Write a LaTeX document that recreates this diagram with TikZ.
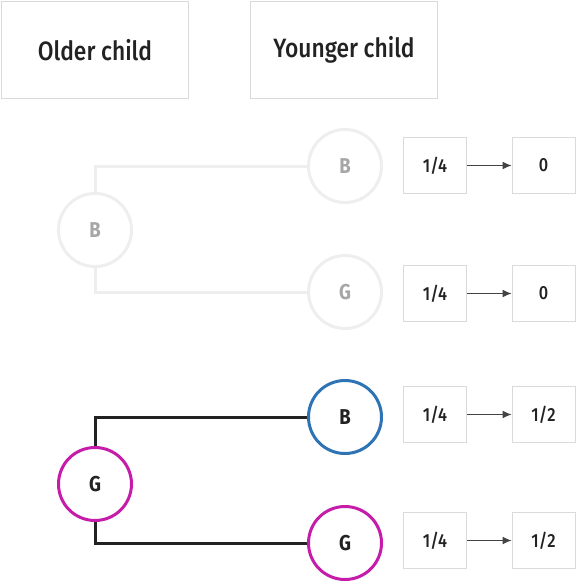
\documentclass[tikz,border=0pt]{standalone}
\usepackage{fontspec}
\setmainfont{Fira Sans}[UprightFont=* Medium, BoldFont=* Bold, FakeStretch=0.86]
\usetikzlibrary{arrows.meta}

\definecolor{boxline}{HTML}{DADADA}
\definecolor{faded}{HTML}{EEEEEE}
\definecolor{fadedtext}{HTML}{A6A6A6}
\definecolor{ink}{HTML}{222222}
\definecolor{boy}{HTML}{2E74B5}
\definecolor{girl}{HTML}{C51DAA}

\begin{document}
\begin{tikzpicture}[x=1pt,y=-1pt,text=ink]
  \tikzstyle{header}=[draw=boxline, line width=1pt, minimum width=187pt, minimum height=97pt, font=\fontsize{26.5}{30}\selectfont]
  \tikzstyle{kid}=[circle, line width=3pt, minimum size=73pt, inner sep=0pt, font=\bfseries\fontsize{21.5}{25}\selectfont]
  \tikzstyle{prob}=[draw=boxline, line width=1pt, minimum width=63pt, minimum height=56pt, font=\fontsize{19}{22}\selectfont]
  \tikzstyle{branch}=[line width=3pt]
  \useasboundingbox (0,0) rectangle (576,584);

  % column headers
  \node[header] (older) at (95,50) {Older child};
  \node[header] (younger) at (344,50) {Younger child};

  % older child is a boy
  \node[kid, draw=faded, text=fadedtext] (b) at (95,230) {B};
  \node[kid, draw=faded, text=fadedtext] (bb) at (345,166) {B};
  \node[kid, draw=faded, text=fadedtext] (bg) at (345,292) {G};
  \draw[branch, faded] (b.north) |- (bb.west);
  \draw[branch, faded] (b.south) |- (bg.west);

  % older child is a girl
  \node[kid, draw=girl] (g) at (95,484) {G};
  \node[kid, draw=boy] (gb) at (345,417) {B};
  \node[kid, draw=girl] (gg) at (345,543) {G};
  \draw[branch, ink] (g.north) |- (gb.west);
  \draw[branch, ink] (g.south) |- (gg.west);

  % probabilities
  \foreach \n/\y/\res in {bb/165.5/0, bg/293.5/0, gb/414.5/1\slash2, gg/540.5/1\slash2}
  {
    \node[prob] (p\n) at (435,\y) {1/4};
    \node[prob] (r\n) at (543.5,\y) {\res};
    \draw[-{Latex[length=9pt,width=8pt]}, line width=1pt, ink!85] (p\n) -- (r\n);
  }
\end{tikzpicture}
\end{document}
